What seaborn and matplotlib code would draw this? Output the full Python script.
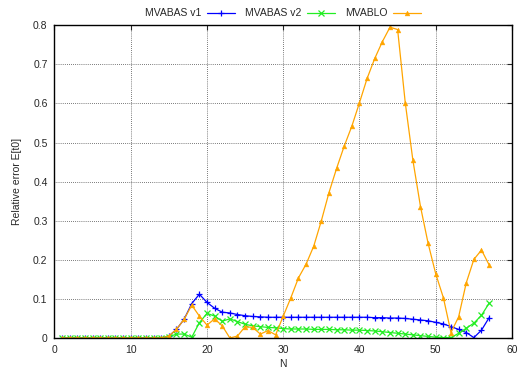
import pandas as pd
import matplotlib
matplotlib.use("Agg")
import matplotlib.pyplot as plt
import seaborn as sns

n_values = list(range(1, 58))

mvabas_v1 = [0, 0, 0, 0, 0, 0, 0, 0, 0, 0, 0, 0, 0, 0, 0.005,
             0.022, 0.048, 0.088, 0.112, 0.091, 0.076, 0.066, 0.064, 0.060, 0.057,
             0.055, 0.054, 0.053, 0.053, 0.053, 0.053, 0.053, 0.053, 0.053, 0.053,
             0.053, 0.053, 0.053, 0.053, 0.053, 0.053, 0.052, 0.052, 0.051, 0.051,
             0.050, 0.048, 0.046, 0.044, 0.040, 0.036, 0.029, 0.022, 0.014, 0.001,
             0.020, 0.052]

mvabas_v2 = [0, 0, 0, 0, 0, 0, 0, 0, 0, 0, 0, 0, 0, 0, 0.003,
             0.010, 0.010, 0.002, 0.039, 0.063, 0.056, 0.043, 0.049, 0.042, 0.035,
             0.031, 0.029, 0.027, 0.026, 0.024, 0.023, 0.023, 0.023, 0.022, 0.022,
             0.022, 0.021, 0.021, 0.020, 0.020, 0.019, 0.018, 0.016, 0.014, 0.012,
             0.010, 0.008, 0.006, 0.004, 0.002, 0.001, 0.001, 0.012, 0.025, 0.038,
             0.058, 0.089]

mvablo = [0, 0, 0, 0, 0, 0, 0, 0, 0, 0, 0, 0, 0, 0, 0.005,
          0.022, 0.048, 0.084, 0.056, 0.033, 0.049, 0.031, 0.0, 0.005, 0.029,
          0.027, 0.010, 0.019, 0.008, 0.056, 0.103, 0.154, 0.189, 0.235, 0.300,
          0.372, 0.434, 0.491, 0.542, 0.602, 0.664, 0.715, 0.758, 0.795, 0.789,
          0.602, 0.455, 0.336, 0.242, 0.164, 0.103, 0.014, 0.054, 0.141, 0.201,
          0.225, 0.187]

series_names = ["MVABAS v1", "MVABAS v2", "MVABLO"]
x_ticks = [0, 10, 20, 30, 40, 50, 60]
y_ticks = [0, 0.1, 0.2, 0.3, 0.4, 0.5, 0.6, 0.7, 0.8]
y_tick_labels = ["0", "0.1", "0.2", "0.3", "0.4", "0.5", "0.6", "0.7", "0.8"]

sns.set_style("white")
plt.rcParams["font.family"] = ["Liberation Sans", "DejaVu Sans"]

df = pd.DataFrame({"N": n_values * 3,
                   "err": mvabas_v1 + mvabas_v2 + mvablo,
                   "series": [s for s in series_names for _ in n_values]})

fig = plt.figure(figsize=(5.19, 3.75), dpi=100)
ax = fig.add_axes([0.105, 0.0987, 0.8815, 0.834])

# colour, marker, size, edge width
styles = {"MVABAS v1": ("#0000ff", "+", 4.5, 0.9),
          "MVABAS v2": ("#22ee22", "x", 4.0, 0.9),
          "MVABLO": ("#ffa500", "^", 3.5, 0.3)}
for name in series_names:
    color, marker, ms, mew = styles[name]
    sub = df[df["series"] == name]
    sns.lineplot(data=sub, x="N", y="err", ax=ax, color=color, marker=marker,
                 markersize=ms, markeredgewidth=mew, markeredgecolor=color,
                 linewidth=0.9, label=name)

ax.set_xlim(0, 60)
ax.set_ylim(0, 0.8)
ax.set_xticks(x_ticks)
ax.set_yticks(y_ticks)
ax.set_yticklabels(y_tick_labels)
ax.tick_params(direction="in", top=True, right=True, labelsize=7.5, length=3.5, pad=5)
ax.grid(True, color="black", linestyle=(0, (1, 2)), linewidth=0.5)
for sp in ax.spines.values():
    sp.set_linewidth(1.0)
    sp.set_color("black")

ax.set_xlabel("N", fontsize=7.5, labelpad=3)
ax.set_ylabel("Relative error E[t0]", fontsize=7.5, labelpad=8)

ax.legend(loc="lower center", bbox_to_anchor=(0.5, 1.0), ncol=3, frameon=False,
          markerfirst=False, fontsize=7.5, handlelength=2.7, columnspacing=1.0,
          handletextpad=0.5, borderaxespad=0.25)

fig.savefig("out.png", dpi=100)
